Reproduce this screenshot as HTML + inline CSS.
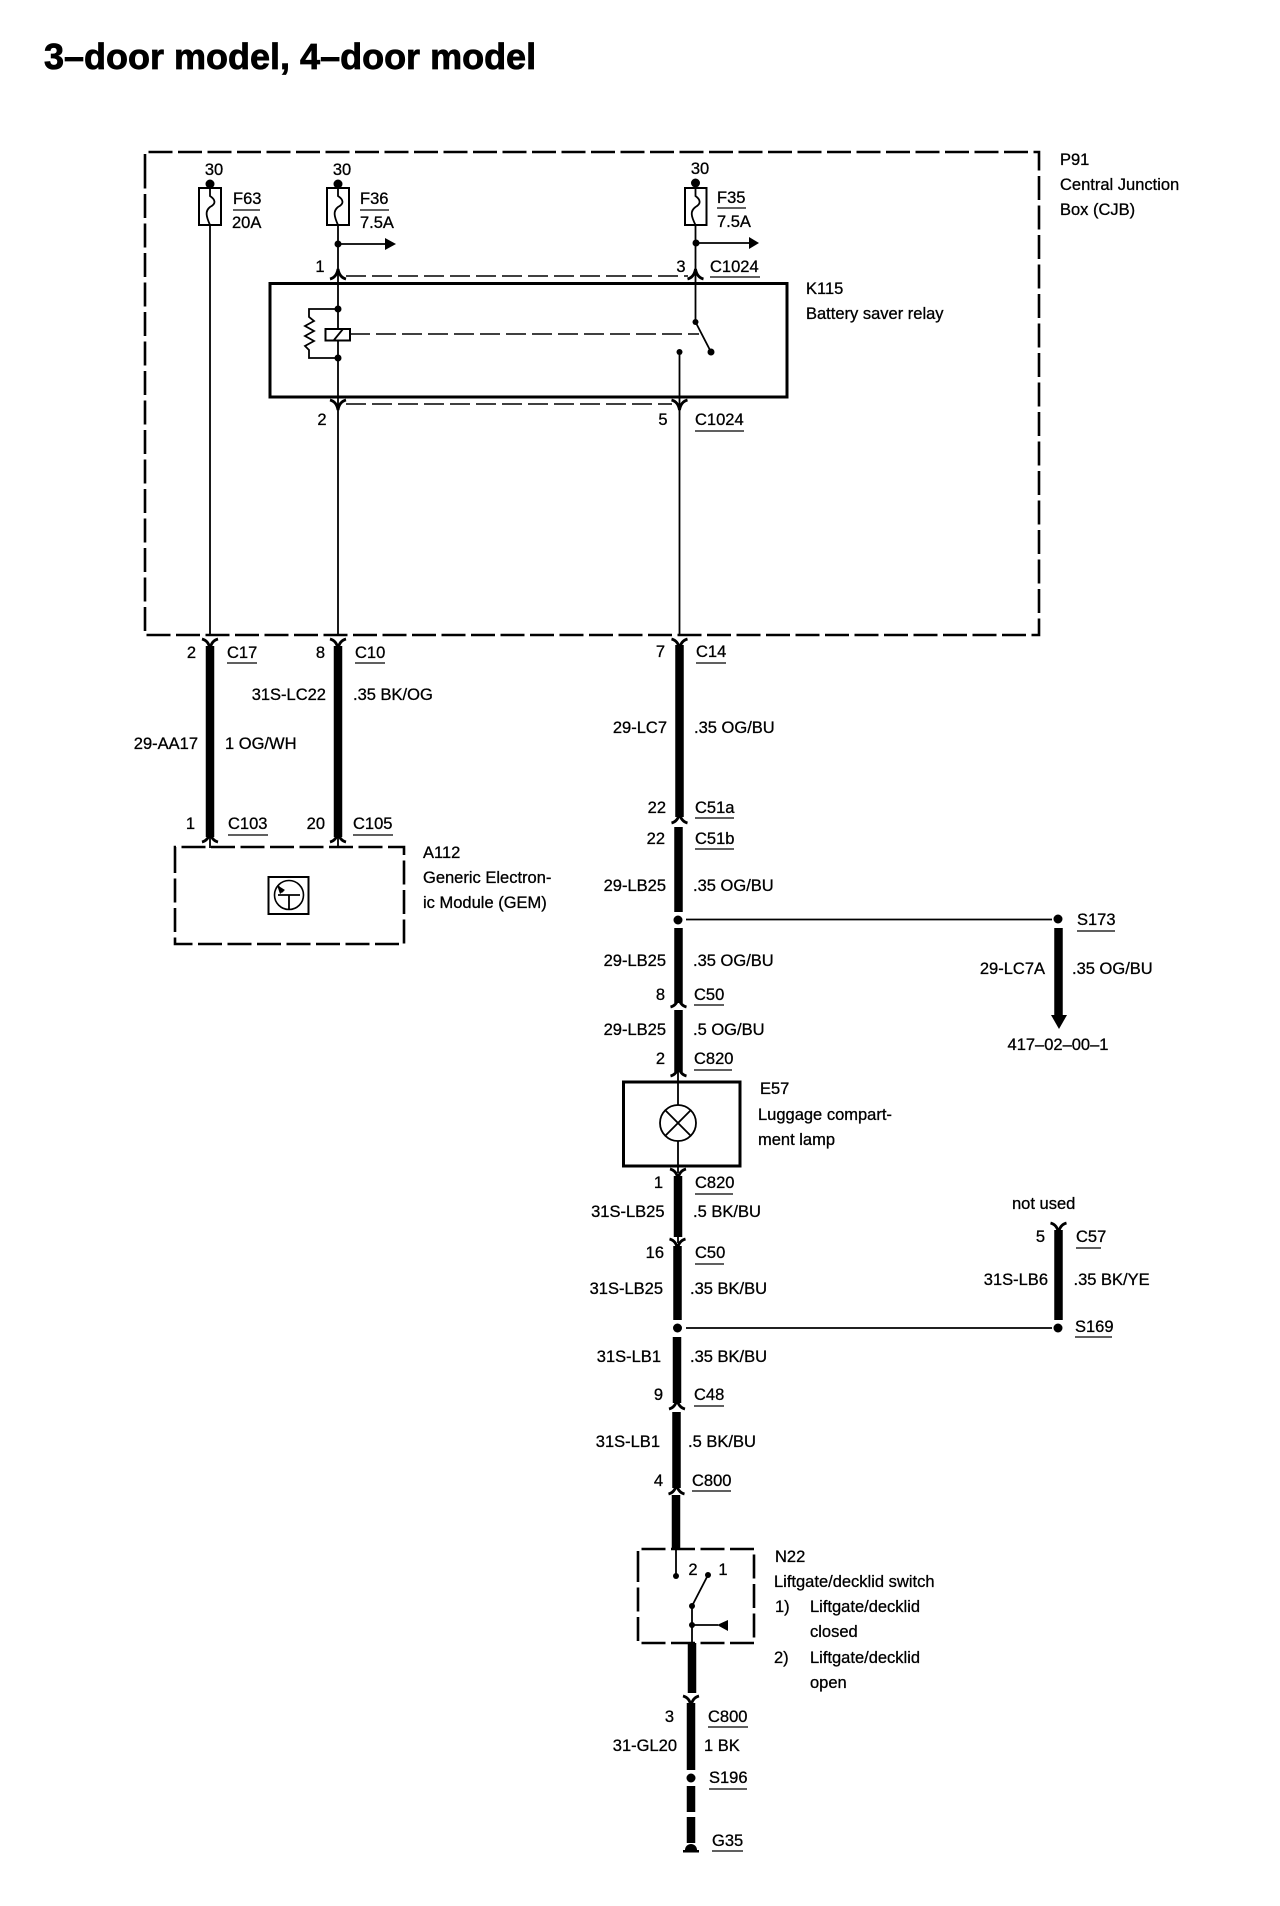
<!DOCTYPE html>
<html lang="en">
<head>
<meta charset="utf-8">
<title>3-door model, 4-door model</title>
<style>
html,body{margin:0;padding:0;background:#fff}
svg{display:block}
text{font-family:"Liberation Sans",sans-serif;font-size:16.5px;fill:#000;stroke:#000;stroke-width:.3px}
.r{text-anchor:end}
.c{text-anchor:middle}
.t{font-size:36px;font-weight:bold;stroke-width:.8px}
.w{stroke:#000;fill:none;stroke-width:1.8}
.k{stroke:#000;fill:none;stroke-width:8.5}
.u{stroke:#000;fill:none;stroke-width:1.2}
.b{stroke:#000;fill:none;stroke-width:3}
.d{stroke:#000;fill:none;stroke-width:2.6;stroke-dasharray:24 5.5}
.e{stroke:#000;fill:none;stroke-width:1.6;stroke-dasharray:20 6}
.f{stroke:#000;fill:#fff;stroke-width:2}
</style>
</head>
<body>
<svg xmlns="http://www.w3.org/2000/svg" width="1280" height="1906" viewBox="0 0 1280 1906">
<defs>
<path id="y" d="M-8 -4C-4 -3 -1 0 0 6C1 0 4 -3 8 -4" fill="none" stroke="#000" stroke-width="2.8"/>
<path id="n" d="M-8 4C-4 3 -1 0 0 -6C1 0 4 3 8 4" fill="none" stroke="#000" stroke-width="2.8"/>
</defs>
<rect width="1280" height="1906" fill="#fff"/>
<text class="t" x="44" y="69">3–door model, 4–door model</text>

<!-- P91 -->
<path class="d" d="M145 178V152H1039V635H145V178"/>
<text x="1060" y="165">P91</text>
<text x="1060" y="190">Central Junction</text>
<text x="1060" y="215">Box (CJB)</text>

<!-- Fuses -->
<path class="w" d="M210 184V635"/>
<path class="w" d="M338 184V635"/>
<path class="w" d="M695.500 184V322"/>
<path class="w" d="M679.500 352V635"/>
<rect class="f" x="199" y="188" width="22" height="37"/>
<rect class="f" x="327" y="188" width="22" height="37"/>
<rect class="f" x="685" y="188" width="21.500" height="37"/>
<path class="w" d="M210 186V196C216 200 216 204 210 207C205 211 206 216 210 225"/>
<path class="w" d="M338 186V196C344 200 344 204 338 207C333 211 334 216 338 225"/>
<path class="w" d="M695.500 186V196C701 200 701 204 695.500 207C690 211 691 216 695.500 225"/>
<circle cx="210" cy="184" r="4.500"/><circle cx="338" cy="184" r="4.500"/><circle cx="695.500" cy="183" r="4.500"/>
<text class="c" x="214" y="175">30</text><text class="c" x="342" y="175">30</text><text class="c" x="700" y="174">30</text>
<text x="233" y="204">F63</text><path class="u" d="M233 210H260"/><text x="232" y="228">20A</text>
<text x="360" y="204">F36</text><path class="u" d="M360 210H389"/><text x="360" y="228">7.5A</text>
<text x="717" y="203">F35</text><path class="u" d="M717 208H746"/><text x="717" y="227">7.5A</text>

<!-- Branch arrows -->
<circle cx="338" cy="244" r="3.500"/><path class="w" d="M338 244H388" stroke-width="2.500"/><path d="M385 238L396 244L385 250Z"/>
<circle cx="696" cy="243" r="3.500"/><path class="w" d="M696 243H750"/><path d="M749 237L759 243L749 249Z"/>

<!-- K115 -->
<rect class="b" x="270" y="283.500" width="517" height="113.500"/>
<use href="#n" x="338" y="275"/><use href="#n" x="695.500" y="275"/>
<use href="#y" x="338" y="404"/><use href="#y" x="679.500" y="404"/>
<path class="e" d="M346 276H688"/>
<path class="e" d="M346 404H672"/>
<text x="320" y="272" class="c">1</text><text x="681" y="272" class="c">3</text>
<text x="322" y="425" class="c">2</text><text x="663" y="425" class="c">5</text>
<text x="710" y="272">C1024</text><path class="u" d="M710 277H760"/>
<text x="695" y="425">C1024</text><path class="u" d="M695 431H744"/>
<text x="806" y="294">K115</text>
<text x="806" y="319">Battery saver relay</text>
<!-- coil -->
<circle cx="338" cy="309" r="3.500"/><circle cx="338" cy="358" r="3.500"/>
<path class="w" d="M338 309H309V317L314 321L305 326L314 331L305 336L314 341L305 346L309 350V358H338"/>
<rect class="f" x="325.500" y="329" width="24.500" height="11.500"/>
<path class="w" d="M334 340L343 329"/>
<path class="e" d="M350 334H699" stroke-width="1.400"/>
<!-- switch -->
<circle cx="695.500" cy="322" r="3"/><path class="w" d="M695.500 322L711 352" stroke-width="2.400"/><circle cx="711" cy="352" r="3.500"/>
<circle cx="679.500" cy="352" r="3"/>

<!-- Left wires -->
<path class="k" d="M210 646V837" stroke-width="7"/>
<path class="k" d="M338 646V837"/>
<use href="#y" x="210" y="643"/><use href="#y" x="338" y="643"/>
<use href="#n" x="210" y="838"/><use href="#n" x="338" y="838"/>
<path class="w" d="M210 835V848M338 835V848"/>
<text class="r" x="196" y="658">2</text><text x="227" y="658">C17</text><path class="u" d="M227 663H257"/>
<text class="r" x="325" y="658">8</text><text x="355" y="658">C10</text><path class="u" d="M355 663H385"/>
<text class="r" x="326" y="700">31S-LC22</text><text x="353" y="700">.35 BK/OG</text>
<text class="r" x="198" y="749">29-AA17</text><text x="225" y="749">1 OG/WH</text>
<text class="r" x="195" y="829">1</text><text x="228" y="829">C103</text><path class="u" d="M228 835H268"/>
<text class="r" x="325" y="829">20</text><text x="353" y="829">C105</text><path class="u" d="M353 835H393"/>

<!-- A112 -->
<path class="d" d="M175 870V847H404V944H175V870" stroke-dasharray="23 6"/>
<rect x="268.500" y="877" width="40" height="37" fill="none" stroke="#000" stroke-width="2"/>
<circle cx="289" cy="895" r="14.500" fill="none" stroke="#000" stroke-width="1.600"/>
<path class="w" d="M278 895H300L289 895V909M283 892L278 886"/>
<path d="M277 885L285 890L280 894Z"/>
<text x="423" y="858">A112</text>
<text x="423" y="883">Generic Electron-</text>
<text x="423" y="908">ic Module (GEM)</text>

<!-- Centre wire -->
<path class="k" d="M679.500 645V817"/>
<use href="#y" x="679.500" y="643"/><use href="#n" x="679.500" y="819"/>
<text class="r" x="665" y="657">7</text><text x="696" y="657">C14</text><path class="u" d="M696 663H726"/>
<text class="r" x="667" y="733">29-LC7</text><text x="694" y="733">.35 OG/BU</text>
<text class="r" x="666" y="813">22</text><text x="695" y="813">C51a</text><path class="u" d="M695 818H734"/>
<path class="k" d="M678.500 827V912"/>
<text class="r" x="665" y="844">22</text><text x="695" y="844">C51b</text><path class="u" d="M695 849H734"/>
<text class="r" x="666" y="891">29-LB25</text><text x="693" y="891">.35 OG/BU</text>
<circle cx="678" cy="920" r="4.500"/>
<path class="w" d="M686 919.500H1052"/>
<circle cx="1058" cy="919" r="4.500"/>
<text x="1077" y="925">S173</text><path class="u" d="M1077 931H1115"/>
<path class="k" d="M1058.500 928V1016"/>
<path d="M1051 1015H1067L1059 1029Z"/>
<text class="r" x="1045" y="974">29-LC7A</text><text x="1072" y="974">.35 OG/BU</text>
<text class="c" x="1058" y="1050">417–02–00–1</text>

<path class="k" d="M678.500 928V1003"/>
<use href="#n" x="678.500" y="1003"/>
<text class="r" x="666" y="966">29-LB25</text><text x="693" y="966">.35 OG/BU</text>
<text class="r" x="665" y="1000">8</text><text x="694" y="1000">C50</text><path class="u" d="M694 1005H724"/>
<path class="k" d="M678.500 1010V1072"/>
<use href="#n" x="678.500" y="1072"/>
<text class="r" x="666" y="1035">29-LB25</text><text x="693" y="1035">.5 OG/BU</text>
<text class="r" x="665" y="1064">2</text><text x="694" y="1064">C820</text><path class="u" d="M694 1070H732"/>

<!-- E57 -->
<rect class="b" x="623.500" y="1082" width="116.500" height="84"/>
<path class="w" d="M678 1072V1105M678 1141V1173"/>
<circle cx="678" cy="1123" r="18" fill="none" stroke="#000" stroke-width="1.800"/>
<path class="w" d="M665.300 1110.300L690.700 1135.700M690.700 1110.300L665.300 1135.700"/>
<text x="760" y="1094">E57</text>
<text x="758" y="1120">Luggage compart-</text>
<text x="758" y="1145">ment lamp</text>

<use href="#y" x="678" y="1173"/>
<path class="k" d="M678 1176V1237"/>
<path class="w" d="M678 1237V1243"/>
<text class="r" x="663" y="1188">1</text><text x="695" y="1188">C820</text><path class="u" d="M695 1194H733"/>
<text class="r" x="664.500" y="1217">31S-LB25</text><text x="693" y="1217">.5 BK/BU</text>
<use href="#y" x="677.500" y="1243"/>
<path class="k" d="M677.500 1246V1320"/>
<text class="r" x="664" y="1258">16</text><text x="695" y="1258">C50</text><path class="u" d="M695 1264H724"/>
<text class="r" x="663" y="1294">31S-LB25</text><text x="690" y="1294">.35 BK/BU</text>
<circle cx="677.500" cy="1328" r="4.500"/>
<path class="w" d="M686 1328H1052"/>
<circle cx="1058" cy="1328" r="4.500"/>
<text x="1075" y="1332">S169</text><path class="u" d="M1075 1337H1112"/>
<use href="#y" x="1058.500" y="1227"/>
<path class="k" d="M1058.500 1230V1320"/>
<text x="1012" y="1209">not used</text>
<text class="r" x="1045" y="1242">5</text><text x="1076" y="1242">C57</text><path class="u" d="M1076 1248H1101"/>
<text class="r" x="1048" y="1285">31S-LB6</text><text x="1073.500" y="1285">.35 BK/YE</text>

<path class="k" d="M677 1337V1403"/>
<use href="#n" x="677" y="1405"/>
<text class="r" x="661" y="1362">31S-LB1</text><text x="690" y="1362">.35 BK/BU</text>
<text class="r" x="663" y="1400">9</text><text x="694" y="1400">C48</text><path class="u" d="M694 1406H724"/>
<path class="k" d="M676.500 1412V1488"/>
<use href="#n" x="676.500" y="1490"/>
<text class="r" x="660" y="1447">31S-LB1</text><text x="688" y="1447">.5 BK/BU</text>
<text class="r" x="663" y="1486">4</text><text x="692" y="1486">C800</text><path class="u" d="M692 1491H731"/>

<!-- N22 -->
<path class="k" d="M676 1495V1549"/>
<path class="d" d="M638 1575V1549H754V1643H638V1575" stroke-dasharray="21 7"/>
<path class="w" d="M676 1549V1576"/>
<circle cx="676" cy="1576" r="3"/>
<text class="c" x="693" y="1575">2</text><text class="c" x="723" y="1575">1</text>
<path class="w" d="M692 1606L708 1575" stroke-width="2.200"/>
<circle cx="692" cy="1606" r="3"/><circle cx="708" cy="1575" r="3"/>
<path class="w" d="M692 1606V1643M692 1625H718"/>
<circle cx="692" cy="1625" r="3"/>
<path d="M717 1625L728 1620V1631Z"/>
<text x="775" y="1562">N22</text>
<text x="774" y="1587">Liftgate/decklid switch</text>
<text x="775" y="1612">1)</text><text x="810" y="1612">Liftgate/decklid</text>
<text x="810" y="1637">closed</text>
<text x="774" y="1663">2)</text><text x="810" y="1663">Liftgate/decklid</text>
<text x="810" y="1688">open</text>

<path class="k" d="M692 1643V1693"/>
<use href="#y" x="691" y="1700"/>
<path class="k" d="M691 1703V1770"/>
<text class="r" x="674" y="1722">3</text><text x="708" y="1722">C800</text><path class="u" d="M708 1727H748"/>
<text class="r" x="677" y="1751">31-GL20</text><text x="704" y="1751">1 BK</text>
<circle cx="691" cy="1778" r="4.500"/>
<text x="709" y="1783">S196</text><path class="u" d="M709 1789H747"/>
<path class="k" d="M691 1786V1812M691 1817V1843"/>
<path d="M685 1850A6 6 0 0 1 697 1850Z"/>
<rect x="683" y="1850" width="16" height="2.500"/>
<text x="712" y="1846">G35</text><path class="u" d="M712 1851H743"/>
</svg>
</body>
</html>
